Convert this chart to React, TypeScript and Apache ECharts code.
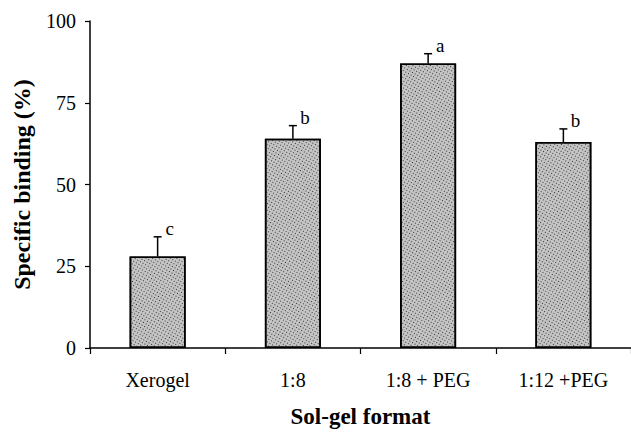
import React, { useEffect, useRef } from "react";
import * as echarts from "echarts";

const categories = ["Xerogel", "1:8", "1:8 + PEG", "1:12 +PEG"];
const means = [28, 64, 87, 63];
const errors = [6, 4, 3, 4];
const letters = ["c", "b", "a", "b"];
const yTicks = [0, 25, 50, 75, 100];

const FONT = "'Liberation Serif', 'Times New Roman', serif";

export default function App() {
  const ref = useRef<HTMLDivElement>(null);
  useEffect(() => {
    if (!ref.current) return;
    const chart = echarts.init(ref.current, undefined, { renderer: "svg" });
    const errData = categories.map((_, i) => [i, means[i], errors[i], letters[i]]);
    chart.setOption({
      animation: false,
      backgroundColor: "#ffffff",
      aria: { enabled: true, decal: { show: true } },
      grid: { left: 90, top: 21, width: 550, height: 333, containLabel: false },
      xAxis: {
        type: "category",
        data: categories,
        name: "Sol-gel format",
        nameLocation: "middle",
        nameGap: 57,
        nameTextStyle: { fontFamily: FONT, fontWeight: "bold", fontSize: 23, color: "#000" },
        axisLine: { lineStyle: { color: "#000", width: 1.5 } },
        axisTick: { show: true, length: 6, alignWithLabel: false, lineStyle: { color: "#000", width: 1.2 } },
        axisLabel: { fontFamily: FONT, fontSize: 20, color: "#000", margin: 22 },
        splitLine: { show: false },
      },
      yAxis: {
        type: "value",
        min: yTicks[0],
        max: yTicks[yTicks.length - 1],
        interval: 25,
        name: "Specific binding (%)",
        nameLocation: "middle",
        nameGap: 56,
        nameTextStyle: { fontFamily: FONT, fontWeight: "bold", fontSize: 24, color: "#000" },
        axisLine: { show: true, lineStyle: { color: "#000", width: 1.5 } },
        axisTick: { show: true, length: 5, lineStyle: { color: "#000", width: 1.2 } },
        axisLabel: { fontFamily: FONT, fontSize: 20, color: "#000", margin: 14 },
        splitLine: { show: false },
      },
      series: [
        {
          type: "bar",
          data: means,
          barWidth: 56,
          itemStyle: {
            color: "#c4c4c4",
            borderColor: "#000",
            borderWidth: 1.6,
            decal: {
              symbol: "rect",
              symbolSize: 1,
              dashArrayX: [1, 2],
              dashArrayY: [1, 2],
              color: "#333333",
            },
          },
          z: 2,
        },
        {
          type: "custom",
          data: errData,
          encode: { x: 0, y: 1 },
          z: 5,
          renderItem: (params: any, api: any) => {
            const i = api.value(0);
            const m = api.value(1);
            const e = api.value(2);
            const letter = letters[params.dataIndex];
            const base = api.coord([i, m]);
            const top = api.coord([i, m + e]);
            const half = 4;
            return {
              type: "group",
              children: [
                {
                  type: "line",
                  shape: { x1: base[0], y1: base[1], x2: top[0], y2: top[1] },
                  style: { stroke: "#000", lineWidth: 1.5 },
                },
                {
                  type: "line",
                  shape: { x1: top[0] - half, y1: top[1], x2: top[0] + half, y2: top[1] },
                  style: { stroke: "#000", lineWidth: 1.5 },
                },
                {
                  type: "text",
                  x: top[0] + 12,
                  y: top[1] + 1,
                  style: {
                    text: letter,
                    fontFamily: FONT,
                    fontSize: 19,
                    fill: "#000",
                    align: "center",
                    verticalAlign: "bottom",
                  },
                },
              ],
            };
          },
        },
      ],
    });
    return () => chart.dispose();
  }, []);
  return (
    <div
      ref={ref}
      style={{ position: "fixed", left: 0, top: 0, width: 631, height: 433, background: "#fff" }}
    />
  );
}
